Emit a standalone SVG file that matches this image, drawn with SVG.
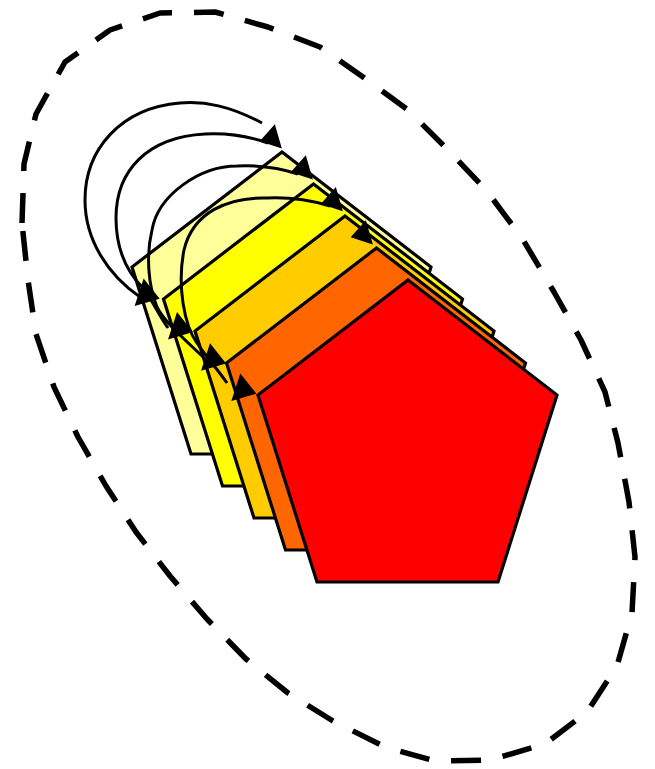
<svg xmlns="http://www.w3.org/2000/svg" xmlns:xlink="http://www.w3.org/1999/xlink" width="655" height="769" viewBox="0 0 655 769">
<style>
.pent{stroke:#000;stroke-width:3.2;stroke-linejoin:miter}
.curve{fill:none;stroke:#000;stroke-width:3}
.outline{fill:none;stroke:#000;stroke-width:5.5;stroke-dasharray:30 22;stroke-linejoin:round}
.head{fill:#000;stroke:#000;stroke-width:1.5;stroke-linejoin:miter}
</style>
<defs>
<polygon id="pent" points="408,280 557,395 498,582 317,582 258,395"/>
<polygon id="ahR" points="0,0 -6.2,-21.6 -19.7,-6.4"/>
<polygon id="ahL" points="0,0 -14.4,-18.2 -22.5,6.6"/>
</defs>
<rect width="655" height="769" fill="#fff"/>
<g id="boundary">
<path class="outline" d="M22,223 L24,164 L36,114 L65,62 L110,30 L160,13 L215,12 L268,27 L320,47 L363,77 L408,110 L448,150 L486,190 L522,238 L554,292 L581,340 L605,392 L618,443 L629,502 L635,557 L632,613 L617,666 L587,712 L545,744 L490,760 L435,761 L385,747 L333,721 L288,693 L246,659 L207,619 L170,576 L136,532 L106,486 L78,437 L54,387 L36,334 L28,280 Z"/>
</g>
<g id="p1"><use xlink:href="#pent" class="pent" fill="#FFFF99" transform="translate(-126,-128)"/></g>
<g id="p2"><use xlink:href="#pent" class="pent" fill="#FFFF00" transform="translate(-94.5,-96)"/></g>
<g id="p3"><use xlink:href="#pent" class="pent" fill="#FFCC00" transform="translate(-63,-64)"/></g>
<g id="p4"><use xlink:href="#pent" class="pent" fill="#FF6600" transform="translate(-31.5,-32)"/></g>
<g id="p5"><use xlink:href="#pent" class="pent" fill="#FF0000"/></g>
<g id="connectors">
<path class="curve" d="M262,123 C230,106 205,101 180,103 C120,108 85,150 85,200 C85,240 108,275 140,297"/>
<path class="curve" d="M268,143 C245,135 225,133 205,134 C148,137 116,170 116,218 C116,250 128,273 143,288 C150,296 157,312 168,328"/>
<path class="curve" d="M298,174 C280,168 258,165 237,166 C200,166 158,195 152,230 C146,255 148,285 157,307 C163,320 180,335 203,357"/>
<path class="curve" d="M330,206 C310,200 290,197 267,198 C228,197 193,212 184,250 C177,285 184,325 197,343 C205,355 218,370 227,383"/>
<use xlink:href="#ahR" class="head" x="280.7" y="147.3"/>
<use xlink:href="#ahR" class="head" x="311.7" y="178.3"/>
<use xlink:href="#ahR" class="head" x="341.7" y="210"/>
<use xlink:href="#ahR" class="head" x="371.7" y="243.3"/>
<use xlink:href="#ahL" class="head" x="158.3" y="298.3"/>
<use xlink:href="#ahL" class="head" x="191.7" y="331.7"/>
<use xlink:href="#ahL" class="head" x="224.7" y="363"/>
<use xlink:href="#ahL" class="head" x="255" y="393.3"/>
</g>
</svg>
